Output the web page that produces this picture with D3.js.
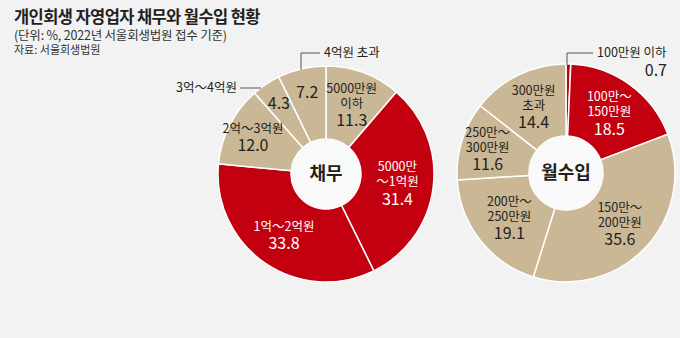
<!DOCTYPE html>
<html><head><meta charset="utf-8">
<script src="https://cdn.jsdelivr.net/npm/d3@7"></script>
<style>
html,body{margin:0;padding:0;background:#f2f2f2;}
svg{display:block;font-family:"Noto Sans CJK KR","Noto Sans",sans-serif;}
</style></head>
<body><svg id="c" width="680" height="338"></svg>
<script>
const title = "개인회생 자영업자 채무와 월수입 현황";
const subtitle = "(단위: %, 2022년 서울회생법원 접수 기준)";
const source = "자료: 서울회생법원";

const debtCenter = "채무";
const debtLabels = [["5000만원","이하"],["5000만","～1억원"],["1억～2억원"],["2억～3억원"],["3억～4억원"],["4억원 초과"]];
const debtValues = [11.3, 31.4, 33.8, 12.0, 4.3, 7.2];
const debtRed = [false, true, true, false, false, false];

const incCenter = "월수입";
const incLabels = [["100만원 이하"],["100만～","150만원"],["150만～","200만원"],["200만～","250만원"],["250만～","300만원"],["300만원","초과"]];
const incValues = [0.7, 18.5, 35.6, 19.1, 11.6, 14.4];
const incRed = [true, true, false, false, false, false];

const RED = "#c3000f", TAN = "#cab795", DARK = "#231f20";
const svg = d3.select("#c");

svg.append("text").attr("x",14).attr("y",23).attr("font-size",16.5).attr("font-weight",700)
  .attr("letter-spacing",-0.6).attr("fill",DARK).text(title);
svg.append("text").attr("x",14).attr("y",40).attr("font-size",12.5).attr("letter-spacing",-0.2).attr("fill","#333").text(subtitle);
svg.append("text").attr("x",14).attr("y",54).attr("font-size",11).attr("fill","#333").text(source);

// layout per slice: mode "in" = name + value inside, "val" = value inside & name outside, "out" = name + value outside
function donut(cfg){
  const g = svg.append("g").attr("transform",`translate(${cfg.cx},${cfg.cy})`);
  const pie = d3.pie().sort(null).value(d=>d)(cfg.values);
  const arc = d3.arc().innerRadius(cfg.ri).outerRadius(cfg.ro);
  g.selectAll("path.s").data(pie).join("path").attr("class","s")
    .attr("d",arc).attr("fill",(d,i)=>cfg.red[i]?RED:TAN)
    .attr("stroke","#fff").attr("stroke-width",1.5);
  g.append("circle").attr("r",cfg.ri).attr("fill","#f9f9f9");
  g.append("text").attr("text-anchor","middle").attr("dy","0.36em").attr("font-size",18)
    .attr("font-weight",700).attr("fill",DARK).text(cfg.center);
  pie.forEach((d,i)=>{
    const lay = cfg.layout[i];
    const lab = cfg.labels[i], val = cfg.values[i].toFixed(1);
    const a = (d.startAngle+d.endAngle)/2;
    const col = cfg.red[i]?"#fff":DARK;
    if(lay.mode==="in"){
      const x = lay.r*Math.sin(a), y = -lay.r*Math.cos(a);
      const lh = 15, lines = lab.length;
      const total = lines*lh + 17;
      const y0 = y - total/2 + lh/2;
      lab.forEach((s,k)=>{
        g.append("text").attr("text-anchor","middle").attr("fill",col)
          .attr("x",x).attr("y",y0+k*lh).attr("dy","0.35em").attr("font-size",12.5).text(s);
      });
      g.append("text").attr("text-anchor","middle").attr("fill",col)
        .attr("x",x).attr("y",y0+lines*lh+2).attr("dy","0.35em").attr("font-size",16).text(val);
      return;
    }
    if(lay.mode==="val"){
      const x = lay.r*Math.sin(a), y = -lay.r*Math.cos(a);
      g.append("text").attr("x",x).attr("y",y).attr("dy","0.35em").attr("text-anchor","middle")
        .attr("font-size",16).attr("fill",col).text(val);
    }
    const pts = lay.leader;
    g.append("path").attr("d",d3.line()(pts)).attr("fill","none").attr("stroke","#555").attr("stroke-width",1);
    const last = pts[pts.length-1];
    const anchor = lay.side==="left"?"end":"start";
    const tx = last[0] + (lay.side==="left"?-3:4);
    g.append("text").attr("x",tx).attr("y",last[1]).attr("text-anchor",anchor)
      .attr("dy","0.35em").attr("font-size",12.5).attr("fill",DARK).text(lab.join(""));
    if(lay.mode==="out"){
      g.append("text").attr("x",lay.vx).attr("y",last[1]+17).attr("text-anchor","end")
        .attr("dy","0.35em").attr("font-size",16).attr("fill",DARK).text(val);
    }
  });
}

donut({
  cx:326, cy:174, ro:108, ri:35, values:debtValues, labels:debtLabels, red:debtRed, center:debtCenter,
  layout:[
    {mode:"in", r:74},
    {mode:"in", r:72},
    {mode:"in", r:74},
    {mode:"in", r:82},
    {mode:"val", r:85, leader:[[-65,-86],[-86,-86]], side:"left"},
    {mode:"val", r:84, leader:[[-25,-104],[-25,-121],[-6,-121]], side:"right"}
  ]
});

donut({
  cx:566, cy:173, ro:109, ri:37, values:incValues, labels:incLabels, red:incRed, center:incCenter,
  layout:[
    {mode:"out", leader:[[1,-108],[1,-120],[27,-120]], side:"right", vx:101},
    {mode:"in", r:74},
    {mode:"in", r:74},
    {mode:"in", r:72},
    {mode:"in", r:82},
    {mode:"in", r:74}
  ]
});
</script></body></html>
